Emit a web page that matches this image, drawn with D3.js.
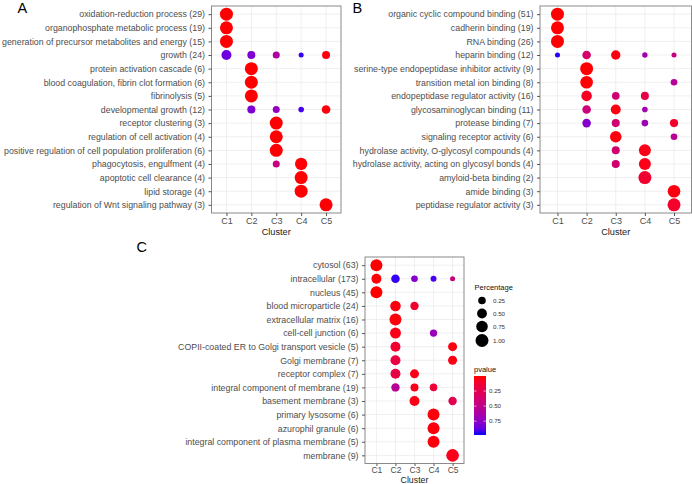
<!DOCTYPE html>
<html><head><meta charset="utf-8">
<script src="https://cdn.jsdelivr.net/npm/d3@7"></script>
<style>
body{margin:0;background:#fff;}
svg{display:block;font-family:"Liberation Sans",Arial,sans-serif;}
</style></head>
<body><svg id="chart" width="692" height="484"></svg>
<script>
const clusters = ["C1","C2","C3","C4","C5"];

const termsA = ["oxidation-reduction process (29)","organophosphate metabolic process (19)","generation of precursor metabolites and energy (15)","growth (24)","protein activation cascade (6)","blood coagulation, fibrin clot formation (6)","fibrinolysis (5)","developmental growth (12)","receptor clustering (3)","regulation of cell activation (4)","positive regulation of cell population proliferation (6)","phagocytosis, engulfment (4)","apoptotic cell clearance (4)","lipid storage (4)","regulation of Wnt signaling pathway (3)"];
// [row, cluster, percentage, pvalue]
const pointsA = [
 [0,"C1",1.0,0.003],[1,"C1",1.0,0.003],[2,"C1",1.0,0.003],
 [3,"C1",0.52,0.85],[3,"C2",0.29,0.8],[3,"C3",0.2,0.6],[3,"C4",0.07,0.95],[3,"C5",0.29,0.02],
 [4,"C2",1.0,0.004],[5,"C2",1.0,0.004],[6,"C2",1.0,0.004],
 [7,"C2",0.3,0.8],[7,"C3",0.2,0.72],[7,"C4",0.1,0.93],[7,"C5",0.36,0.02],
 [8,"C3",1.0,0.004],[9,"C3",1.0,0.004],[10,"C3",1.0,0.004],
 [11,"C3",0.2,0.45],[11,"C4",0.88,0.01],
 [12,"C4",1.0,0.004],[13,"C4",1.0,0.004],[14,"C5",1.0,0.006]
];

const termsB = ["organic cyclic compound binding (51)","cadherin binding (19)","RNA binding (26)","heparin binding (12)","serine-type endopeptidase inhibitor activity (9)","transition metal ion binding (8)","endopeptidase regulator activity (16)","glycosaminoglycan binding (11)","protease binding (7)","signaling receptor activity (6)","hydrolase activity, O-glycosyl compounds (4)","hydrolase activity, acting on glycosyl bonds (4)","amyloid-beta binding (2)","amide binding (3)","peptidase regulator activity (3)"];
const pointsB = [
 [0,"C1",1.0,0.002],[1,"C1",1.0,0.003],[2,"C1",1.0,0.003],
 [3,"C1",0.07,0.96],[3,"C2",0.35,0.35],[3,"C3",0.44,0.03],[3,"C4",0.09,0.65],[3,"C5",0.07,0.45],
 [4,"C2",1.0,0.005],
 [5,"C2",0.93,0.01],[5,"C5",0.17,0.55],
 [6,"C2",0.6,0.08],[6,"C3",0.25,0.4],[6,"C4",0.29,0.2],
 [7,"C2",0.35,0.42],[7,"C3",0.52,0.03],[7,"C4",0.1,0.65],
 [8,"C2",0.35,0.78],[8,"C3",0.29,0.38],[8,"C4",0.17,0.68],[8,"C5",0.31,0.1],
 [9,"C3",0.76,0.02],[9,"C5",0.17,0.55],
 [10,"C3",0.29,0.38],[10,"C4",0.82,0.04],
 [11,"C3",0.29,0.38],[11,"C4",0.82,0.04],
 [12,"C4",1.0,0.12],[13,"C5",0.93,0.03],[14,"C5",1.0,0.1]
];

const termsC = ["cytosol (63)","intracellular (173)","nucleus (45)","blood microparticle (24)","extracellular matrix (16)","cell-cell junction (6)","COPII-coated ER to Golgi transport vesicle (5)","Golgi membrane (7)","receptor complex (7)","integral component of membrane (19)","basement membrane (3)","primary lysosome (6)","azurophil granule (6)","integral component of plasma membrane (5)","membrane (9)"];
const pointsC = [
 [0,"C1",0.82,0.002],
 [1,"C1",0.52,0.01],[1,"C2",0.35,0.95],[1,"C3",0.17,0.78],[1,"C4",0.12,0.93],[1,"C5",0.07,0.45],
 [2,"C1",0.82,0.002],
 [3,"C2",0.6,0.03],[3,"C3",0.33,0.12],
 [4,"C2",0.82,0.02],
 [5,"C2",0.66,0.04],[5,"C4",0.23,0.7],
 [6,"C2",0.52,0.12],[6,"C5",0.4,0.03],
 [7,"C2",0.52,0.18],[7,"C5",0.4,0.03],
 [8,"C2",0.52,0.2],[8,"C3",0.4,0.05],
 [9,"C2",0.33,0.55],[9,"C3",0.29,0.05],[9,"C4",0.25,0.15],
 [10,"C3",0.52,0.04],[10,"C5",0.33,0.25],
 [11,"C4",0.82,0.02],[12,"C4",0.82,0.02],[13,"C4",0.82,0.02],
 [14,"C5",0.93,0.05]
];

const sizeBreaks = [0.25,0.5,0.75,1.0];
const pBreaks = [0.25,0.5,0.75];
const pDomain = [0, 0.98];

const svg = d3.select("#chart");
svg.append("rect").attr("width",692).attr("height",484).attr("fill","#fff");

const color = d3.scaleLinear().domain(pDomain).range(["red","blue"]).interpolate(d3.interpolateLab);
const rad = v => 1.1 + 5.4*Math.sqrt(v);

function panel(terms, points, box, letter){
  const {x0,x1,y0,y1,cl,tk,tp,tf,cf} = box;
  const x = d3.scalePoint().domain(clusters).range([x0,x1]).padding(0.6);
  const y = d3.scalePoint().domain(terms).range([y0,y1]).padding(0.6);
  const g = svg.append("g");
  g.append("rect").attr("x",x0).attr("y",y0).attr("width",x1-x0).attr("height",y1-y0).attr("fill","#fff");
  g.selectAll(".hg").data(terms).join("line")
    .attr("x1",x0).attr("x2",x1).attr("y1",d=>y(d)).attr("y2",d=>y(d))
    .attr("stroke","#ebebeb").attr("stroke-width",0.8);
  g.selectAll(".vg").data(clusters).join("line")
    .attr("y1",y0).attr("y2",y1).attr("x1",d=>x(d)).attr("x2",d=>x(d))
    .attr("stroke","#ebebeb").attr("stroke-width",0.8);
  g.selectAll("circle").data(points).join("circle")
    .attr("cx",d=>x(d[1])).attr("cy",d=>y(terms[d[0]]))
    .attr("r",d=>rad(d[2])).attr("fill",d=>color(d[3]));
  g.append("rect").attr("x",x0).attr("y",y0).attr("width",x1-x0).attr("height",y1-y0)
    .attr("fill","none").attr("stroke","#8a8a8a").attr("stroke-width",1);
  const ya = g.append("g").attr("transform",`translate(${x0},0)`)
    .call(d3.axisLeft(y).tickSizeInner(3).tickSizeOuter(0).tickPadding(3.5));
  ya.select(".domain").remove();
  ya.selectAll("line").attr("stroke","#555");
  ya.selectAll("text").attr("font-size",8.8).attr("fill","#4d4d4d").attr("font-family","Liberation Sans, Arial, sans-serif");
  const xa = g.append("g").attr("transform",`translate(0,${y1})`)
    .call(d3.axisBottom(x).tickSizeInner(tk).tickSizeOuter(0).tickPadding(tp));
  xa.select(".domain").remove();
  xa.selectAll("line").attr("stroke","#555");
  xa.selectAll("text").attr("font-size",tf).attr("fill","#4d4d4d").attr("font-family","Liberation Sans, Arial, sans-serif");
  g.append("text").attr("x",(x0+x1)/2).attr("y",y1+cl).attr("text-anchor","middle")
    .attr("font-size",cf).attr("fill","#222").text("Cluster");
  g.append("text").attr("x",letter.x).attr("y",letter.y).attr("font-size",14.5).attr("fill","#000").text(letter.t);
}

panel(termsA, pointsA, {x0:211.5,x1:341,y0:6,y1:213,cl:21.5,tk:3,tp:1.5,tf:9,cf:9.2}, {x:17.5,y:12.5,t:"A"});
panel(termsB, pointsB, {x0:540,x1:691.5,y0:6,y1:213,cl:21.5,tk:3,tp:1.5,tf:9,cf:9.2}, {x:352.5,y:12.5,t:"B"});
panel(termsC, pointsC, {x0:365,x1:464,y0:257,y1:463.5,cl:19.8,tk:2.5,tp:0.5,tf:8.5,cf:8.8}, {x:136.5,y:251.5,t:"C"});

// size legend
const lg = svg.append("g");
lg.append("text").attr("x",474.5).attr("y",290).attr("font-size",7.5).attr("fill","#111").text("Percentage");
const ky = [300.5,313.5,326.5,340.5];
lg.selectAll(".sk").data(sizeBreaks).join("circle")
  .attr("cx",482).attr("cy",(d,i)=>ky[i]).attr("r",d=>rad(d)).attr("fill","#000");
lg.selectAll(".st").data(sizeBreaks).join("text")
  .attr("x",493).attr("y",(d,i)=>ky[i]+2.2).attr("font-size",6.2).attr("fill","#333")
  .text(d=>d3.format(".2f")(d));

// colour legend
lg.append("text").attr("x",474).attr("y",372).attr("font-size",7.5).attr("fill","#111").text("pvalue");
const barTop = 376, barBot = 435;
const cy = d3.scaleLinear().domain(pDomain).range([barTop,barBot]);
const defs = svg.append("defs");
const grad = defs.append("linearGradient").attr("id","pg").attr("x1",0).attr("x2",0).attr("y1",0).attr("y2",1);
d3.range(0,1.0001,0.1).forEach(t=>{
  grad.append("stop").attr("offset",t).attr("stop-color",color(pDomain[0]+t*(pDomain[1]-pDomain[0])));
});
lg.append("rect").attr("x",474).attr("y",barTop).attr("width",12).attr("height",barBot-barTop).attr("fill","url(#pg)");
pBreaks.forEach(b=>{
  lg.append("line").attr("x1",474).attr("x2",476.5).attr("y1",cy(b)).attr("y2",cy(b)).attr("stroke","#fff").attr("stroke-width",0.6);
  lg.append("line").attr("x1",483.5).attr("x2",486).attr("y1",cy(b)).attr("y2",cy(b)).attr("stroke","#fff").attr("stroke-width",0.6);
});
lg.selectAll(".pt").data(pBreaks).join("text")
  .attr("x",489).attr("y",d=>cy(d)+2.2).attr("font-size",6.2).attr("fill","#333")
  .text(d=>d3.format(".2f")(d));
</script></body></html>
